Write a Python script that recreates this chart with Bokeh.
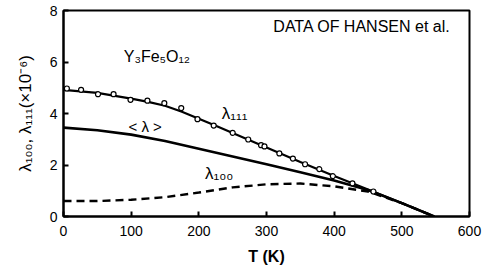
from bokeh.plotting import figure
from bokeh.models import FixedTicker, Range1d
from bokeh.core.properties import value
from bokeh.embed import file_html
from bokeh.resources import INLINE

# lambda_111 measured points (open circles)
t111_pts = [5, 26, 51, 74, 99, 124, 149, 174, 198, 222, 250, 273, 292, 297, 319, 339, 357, 378, 398, 427, 458]
l111_pts = [4.97, 4.92, 4.75, 4.75, 4.53, 4.50, 4.40, 4.21, 3.78, 3.53, 3.25, 2.99, 2.77, 2.72, 2.45, 2.25, 2.03, 1.84, 1.57, 1.29, 0.97]

# lambda_111 curve
t111 = [0, 50, 100, 125, 150, 175, 200, 225, 250, 300, 350, 400, 450, 500, 548]
l111 = [4.92, 4.8, 4.58, 4.45, 4.3, 4.07, 3.8, 3.52, 3.24, 2.68, 2.12, 1.57, 1.05, 0.52, 0.0]

# <lambda> curve
tavg = [0, 50, 100, 150, 200, 250, 300, 350, 400, 450, 500, 548]
lavg = [3.45, 3.35, 3.18, 2.93, 2.63, 2.33, 2.03, 1.72, 1.40, 1.03, 0.52, 0.0]

# lambda_100 curve (dashed)
t100 = [0, 50, 100, 150, 200, 250, 300, 350, 400, 450, 500, 548]
l100 = [0.6, 0.6, 0.65, 0.75, 0.93, 1.13, 1.25, 1.28, 1.17, 0.97, 0.52, 0.0]

x_ticks = [0, 100, 200, 300, 400, 500, 600]
y_ticks = [0, 2, 4, 6, 8]

FONT = "Liberation Sans"

p = figure(width=490, height=268, output_backend="svg", toolbar_location=None,
           x_range=Range1d(0, 600), y_range=Range1d(0, 8),
           min_border_left=63, min_border_right=21, min_border_top=10, min_border_bottom=52)
p.grid.visible = False
p.background_fill_color = "white"
p.border_fill_color = "white"
p.outline_line_color = "black"
p.outline_line_width = 2

for ax in (p.xaxis[0], p.yaxis[0]):
    ax.axis_line_color = "black"
    ax.axis_line_width = 2
    ax.major_tick_in = 5
    ax.major_tick_out = 0
    ax.minor_tick_in = 0
    ax.minor_tick_out = 0
    ax.major_tick_line_width = 2
    ax.major_label_text_font = FONT
    ax.major_label_text_font_size = "14px"
    ax.major_label_text_color = "black"
    ax.axis_label_text_font = FONT
    ax.axis_label_text_color = "black"

p.xaxis.ticker = FixedTicker(ticks=x_ticks)
p.yaxis.ticker = FixedTicker(ticks=y_ticks)
p.xaxis.major_label_standoff = 9
p.yaxis.major_label_standoff = 6
p.xaxis.axis_label = "T (K)"
p.xaxis.axis_label_text_font_style = "bold"
p.xaxis.axis_label_text_font_size = "16px"
p.xaxis.axis_label_standoff = 9
p.yaxis.axis_label = "λ₁₀₀, λ₁₁₁(×10⁻⁶)"
p.yaxis.axis_label_text_font_style = "normal"
p.yaxis.axis_label_text_font_size = "17px"
p.yaxis.axis_label_standoff = 12

p.line(t111, l111, line_color="black", line_width=2.2)
p.line(tavg, lavg, line_color="black", line_width=2.6)
p.line(t100, l100, line_color="black", line_width=2.4, line_dash="8 5")
p.scatter(t111_pts, l111_pts, marker="circle", size=5, fill_color="white",
          line_color="black", line_width=1.2)

p.text(x=[572], y=[7.38], text=["DATA OF HANSEN et al."], text_align="right",
       text_baseline="middle", text_font=value(FONT), text_font_size="16px", text_color="black")
p.text(x=[89], y=[6.2], text=["Y₃Fe₅O₁₂"], text_align="left",
       text_baseline="middle", text_font=value(FONT), text_font_size="16px", text_color="black")
p.text(x=[234], y=[4.0], text=["λ₁₁₁"], text_align="left",
       text_baseline="middle", text_font=value(FONT), text_font_size="17px", text_color="black")
p.text(x=[96], y=[3.5], text=["< λ >"], text_align="left",
       text_baseline="middle", text_font=value(FONT), text_font_size="15px", text_color="black")
p.text(x=[209], y=[1.68], text=["λ₁₀₀"], text_align="left",
       text_baseline="middle", text_font=value(FONT), text_font_size="17px", text_color="black")

open("out.html", "w").write(file_html(p, INLINE))
